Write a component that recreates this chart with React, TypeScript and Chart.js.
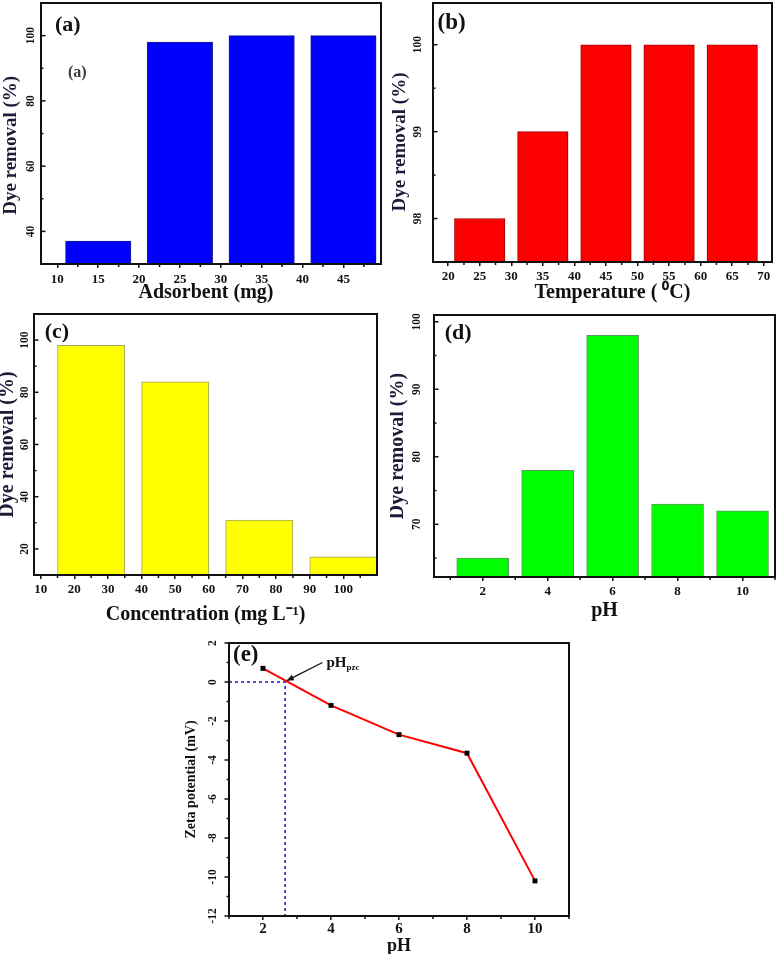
import React, { useEffect, useRef } from "react";
import { Chart, registerables } from "chart.js";

Chart.register(...registerables);

const SERIF = "'Liberation Serif', 'Times New Roman', Times, serif";
Chart.defaults.font.family = SERIF;
Chart.defaults.color = "#111";

// ---------- (a) adsorbent dose ----------
const adsorbentMg = [15, 25, 35, 45];
const removalByAdsorbent = [37, 98, 100, 100];
const adsorbentTicks = [10, 15, 20, 25, 30, 35, 40, 45];
const adsorbentMinorTicks = [12.5, 17.5, 22.5, 27.5, 32.5, 37.5, 42.5, 47.5];
const removalTicksA = [40, 60, 80, 100];
const removalMinorA = [50, 70, 90];

// ---------- (b) temperature ----------
const temperatureC = [25, 35, 45, 55, 65];
const removalByTemperature = [98, 99, 100, 100, 100];
const temperatureTicks = [20, 25, 30, 35, 40, 45, 50, 55, 60, 65, 70];
const temperatureMinorTicks = [22.5, 27.5, 32.5, 37.5, 42.5, 47.5, 52.5, 57.5, 62.5, 67.5];
const removalTicksB = [98, 99, 100];
const removalMinorB = [97.5, 98.5, 99.5];

// ---------- (c) initial concentration ----------
const concentrationMgL = [25, 50, 75, 100];
const removalByConcentration = [98, 84, 31, 17];
const concentrationTicks = [10, 20, 30, 40, 50, 60, 70, 80, 90, 100];
const concentrationMinorTicks = [15, 25, 35, 45, 55, 65, 75, 85, 95, 105];
const removalTicksC = [20, 40, 60, 80, 100];
const removalMinorC = [30, 50, 70, 90];

// ---------- (d) pH ----------
const solutionPH = [2, 4, 6, 8, 10];
const removalByPH = [65, 78, 98, 73, 72];
const pHTicks = [2, 4, 6, 8, 10];
const pHMinorTicks = [1, 3, 5, 7, 9, 11];
const removalTicksD = [70, 80, 90, 100];
const removalMinorD = [65, 75, 85, 95];

// ---------- (e) zeta potential ----------
const zetaPH = [2, 4, 6, 8, 10];
const zetaPotentialMV = [0.7, -1.2, -2.7, -3.65, -10.2];
const pHpzc = 2.65;
const zetaTicks = [-12, -10, -8, -6, -4, -2, 0, 2];
const zetaMinorTicks = [-11, -9, -7, -5, -3, -1, 1];
const pzcArrowFrom = { x: 3.75, y: 1.0 };
const pzcArrowTo = { x: 2.7, y: 0.07 };

type PanelLabel = { text: string; dx: number; dy: number; size: number; color: string };

interface Deco {
  yTicks: number[];
  yMinor: number[];
  xMinor: number[];
  yLabelGap: number;
  yLabelFont: number;
  yTickOutward: boolean;
  labels: PanelLabel[];
  extra?: (chart: any, ctx: CanvasRenderingContext2D) => void;
}

function decoPlugin(d: Deco) {
  return {
    id: "panelDeco",
    afterDatasetsDraw(chart: any) {
      const { ctx, chartArea: a } = chart;
      const xs = chart.scales.x;
      const ys = chart.scales.y;
      ctx.save();
      ctx.strokeStyle = "#111";
      ctx.lineWidth = 1.5;
      const dir = d.yTickOutward ? -1 : 1;
      const yTick = (v: number, len: number) => {
        const p = ys.getPixelForValue(v);
        ctx.beginPath();
        ctx.moveTo(a.left, p);
        ctx.lineTo(a.left + dir * len, p);
        ctx.stroke();
      };
      d.yTicks.forEach((v) => yTick(v, 4.5));
      d.yMinor.forEach((v) => yTick(v, 2.5));
      d.xMinor.forEach((v) => {
        const p = xs.getPixelForValue(v);
        ctx.beginPath();
        ctx.moveTo(p, a.bottom);
        ctx.lineTo(p, a.bottom + 3);
        ctx.stroke();
      });
      ctx.lineWidth = 2;
      ctx.strokeRect(a.left, a.top, a.right - a.left, a.bottom - a.top);

      ctx.fillStyle = "#111";
      ctx.font = `bold ${d.yLabelFont}px ${SERIF}`;
      ctx.textAlign = "center";
      ctx.textBaseline = "middle";
      d.yTicks.forEach((v) => {
        const p = ys.getPixelForValue(v);
        ctx.save();
        ctx.translate(a.left - d.yLabelGap, p);
        ctx.rotate(-Math.PI / 2);
        ctx.fillText(String(v), 0, 0);
        ctx.restore();
      });

      ctx.textAlign = "left";
      ctx.textBaseline = "alphabetic";
      d.labels.forEach((l) => {
        ctx.font = `bold ${l.size}px ${SERIF}`;
        ctx.fillStyle = l.color;
        ctx.fillText(l.text, a.left + l.dx, a.top + l.dy);
      });
      if (d.extra) d.extra(chart, ctx);
      ctx.restore();
    },
  };
}

interface AxisSpec {
  xMin: number;
  xMax: number;
  yMin: number;
  yMax: number;
  xTicks: number[];
  xTitle: string;
  yTitle: string;
  padTop: number;
  padRight: number;
  yAxisWidth: number;
  xAxisHeight: number;
  xTickPad: number;
  xTickFont: number;
  xTitleFont: number;
  xTitlePad: number;
  yTitleFont: number;
  yTitlePad: number;
}

function axesOptions(s: AxisSpec) {
  return {
    responsive: false,
    animation: false,
    events: [],
    layout: { padding: { left: 0, top: s.padTop, right: s.padRight, bottom: 0 } },
    plugins: { legend: { display: false }, tooltip: { enabled: false } },
    scales: {
      x: {
        type: "linear",
        min: s.xMin,
        max: s.xMax,
        offset: false,
        afterBuildTicks: (sc: any) => {
          sc.ticks = s.xTicks.map((v) => ({ value: v }));
        },
        afterFit: (sc: any) => {
          sc.height = s.xAxisHeight;
        },
        ticks: {
          autoSkip: false,
          maxRotation: 0,
          minRotation: 0,
          padding: s.xTickPad,
          font: { size: s.xTickFont, weight: "bold" },
          color: "#111",
        },
        grid: {
          offset: false,
          drawOnChartArea: false,
          drawTicks: true,
          tickLength: 4,
          color: "#111",
          lineWidth: 1.5,
        },
        border: { display: false },
        title: {
          display: true,
          text: s.xTitle,
          font: { size: s.xTitleFont, weight: "bold" },
          color: "#111",
          padding: { top: 0, bottom: s.xTitlePad },
        },
      },
      y: {
        type: "linear",
        min: s.yMin,
        max: s.yMax,
        afterFit: (sc: any) => {
          sc.width = s.yAxisWidth;
        },
        ticks: { display: false },
        grid: { display: false },
        border: { display: false },
        title: {
          display: true,
          text: s.yTitle,
          font: { size: s.yTitleFont, weight: "bold" },
          color: "#1c1c38",
          padding: { top: s.yTitlePad, bottom: 0 },
        },
      },
    },
  };
}

interface BarSpec extends AxisSpec {
  xs: number[];
  ys: number[];
  fill: string;
  edge: string;
  barWidth: number;
  deco: Deco;
}

function barConfig(s: BarSpec): any {
  return {
    type: "bar",
    data: {
      datasets: [
        {
          data: s.xs.map((x, i) => ({ x, y: s.ys[i] })),
          backgroundColor: s.fill,
          borderColor: s.edge,
          borderWidth: 1,
          base: s.yMin,
          barThickness: (c: any) => {
            const sc = c.chart.scales.x;
            return Math.abs(sc.getPixelForValue(s.barWidth) - sc.getPixelForValue(0));
          },
        },
      ],
    },
    options: axesOptions(s),
    plugins: [decoPlugin(s.deco)],
  };
}

const makeA = () =>
  barConfig({
    xs: adsorbentMg,
    ys: removalByAdsorbent,
    fill: "#0000ff",
    edge: "#1a1a8c",
    barWidth: 8,
    xMin: 8,
    xMax: 49.6,
    yMin: 30,
    yMax: 110,
    xTicks: adsorbentTicks,
    xTitle: "Adsorbent (mg)  ",
    yTitle: "Dye removal (%)     ",
    padTop: 3,
    padRight: 9,
    yAxisWidth: 41,
    xAxisHeight: 41,
    xTickPad: 4,
    xTickFont: 13,
    xTitleFont: 20,
    xTitlePad: 0,
    yTitleFont: 19,
    yTitlePad: 0,
    deco: {
      yTicks: removalTicksA,
      yMinor: removalMinorA,
      xMinor: adsorbentMinorTicks,
      yLabelGap: 10,
      yLabelFont: 11.5,
      yTickOutward: false,
      labels: [
        { text: "(a)", dx: 14, dy: 28, size: 22, color: "#111" },
        { text: "(a)", dx: 27, dy: 74, size: 16, color: "#3a3a3a" },
      ],
    },
  });

const makeB = () =>
  barConfig({
    xs: temperatureC,
    ys: removalByTemperature,
    fill: "#ff0000",
    edge: "#9a0000",
    barWidth: 8,
    xMin: 17.6,
    xMax: 71.3,
    yMin: 97.5,
    yMax: 100.48,
    xTicks: temperatureTicks,
    xTitle: "    Temperature ( \u2070C)",
    yTitle: "Dye removal (%)    ",
    padTop: 3,
    padRight: 8,
    yAxisWidth: 43,
    xAxisHeight: 43,
    xTickPad: 3,
    xTickFont: 13,
    xTitleFont: 20,
    xTitlePad: 0,
    yTitleFont: 19,
    yTitlePad: -1,
    deco: {
      yTicks: removalTicksB,
      yMinor: removalMinorB,
      xMinor: temperatureMinorTicks,
      yLabelGap: 15,
      yLabelFont: 11.5,
      yTickOutward: false,
      labels: [{ text: "(b)", dx: 4.5, dy: 26, size: 23, color: "#111" }],
    },
  });

const makeC = () =>
  barConfig({
    xs: concentrationMgL,
    ys: removalByConcentration,
    fill: "#ffff00",
    edge: "#a3a36a",
    barWidth: 20,
    xMin: 8,
    xMax: 110,
    yMin: 10,
    yMax: 110,
    xTicks: concentrationTicks,
    xTitle: "Concentration (mg L\u207B\u00B9)",
    yTitle: "Dye removal (%)",
    padTop: 9,
    padRight: 13,
    yAxisWidth: 34,
    xAxisHeight: 50,
    xTickPad: 3,
    xTickFont: 13,
    xTitleFont: 20,
    xTitlePad: -2,
    yTitleFont: 20,
    yTitlePad: -4,
    deco: {
      yTicks: removalTicksC,
      yMinor: removalMinorC,
      xMinor: concentrationMinorTicks,
      yLabelGap: 8.5,
      yLabelFont: 11.5,
      yTickOutward: false,
      labels: [{ text: "(c)", dx: 10.7, dy: 23.7, size: 22, color: "#111" }],
    },
  });

const makeD = () =>
  barConfig({
    xs: solutionPH,
    ys: removalByPH,
    fill: "#00ff00",
    edge: "#5c9a5c",
    barWidth: 1.6,
    xMin: 0.5,
    xMax: 11,
    yMin: 62.2,
    yMax: 101,
    xTicks: pHTicks,
    xTitle: "pH",
    yTitle: "Dye removal (%)",
    padTop: 10,
    padRight: 5,
    yAxisWidth: 44,
    xAxisHeight: 48,
    xTickPad: 3,
    xTickFont: 13,
    xTitleFont: 20,
    xTitlePad: 2,
    yTitleFont: 20,
    yTitlePad: -4,
    deco: {
      yTicks: removalTicksD,
      yMinor: removalMinorD,
      xMinor: pHMinorTicks,
      yLabelGap: 16.5,
      yLabelFont: 11.5,
      yTickOutward: false,
      labels: [{ text: "(d)", dx: 10.7, dy: 24.3, size: 22, color: "#111" }],
    },
  });

const E_X_MIN = 1;
const E_Y_MIN = -12;

const makeE = (): any => {
  const axes = axesOptions({
    xMin: E_X_MIN,
    xMax: 11,
    yMin: E_Y_MIN,
    yMax: 2,
    xTicks: pHTicks,
    xTitle: "pH",
    yTitle: "Zeta potential (mV)",
    padTop: 18,
    padRight: 31,
    yAxisWidth: 49,
    xAxisHeight: 38,
    xTickPad: 0,
    xTickFont: 15,
    xTitleFont: 18,
    xTitlePad: -3,
    yTitleFont: 14,
    yTitlePad: 2.5,
  });
  (axes.scales.y.title as any).color = "#111";
  return {
    type: "line",
    data: {
      datasets: [
        {
          data: zetaPH.map((x, i) => ({ x, y: zetaPotentialMV[i] })),
          borderColor: "#ff0000",
          borderWidth: 2,
          tension: 0,
          pointStyle: "rect",
          pointRadius: 3.5,
          pointBackgroundColor: "#000",
          pointBorderColor: "#000",
          pointBorderWidth: 0,
        },
        {
          data: [
            { x: E_X_MIN, y: 0 },
            { x: pHpzc, y: 0 },
            { x: pHpzc, y: E_Y_MIN },
          ],
          borderColor: "#1616c8",
          borderWidth: 1.5,
          borderDash: [3, 3],
          pointRadius: 0,
          tension: 0,
        },
      ],
    },
    options: axes,
    plugins: [
      decoPlugin({
        yTicks: zetaTicks,
        yMinor: zetaMinorTicks,
        xMinor: pHMinorTicks,
        yLabelGap: 15.7,
        yLabelFont: 11.5,
        yTickOutward: true,
        labels: [{ text: "(e)", dx: 4, dy: 18, size: 23, color: "#111" }],
        extra: (chart, ctx) => {
          const xs = chart.scales.x;
          const ys = chart.scales.y;
          const x1 = xs.getPixelForValue(pzcArrowFrom.x);
          const y1 = ys.getPixelForValue(pzcArrowFrom.y);
          const x2 = xs.getPixelForValue(pzcArrowTo.x);
          const y2 = ys.getPixelForValue(pzcArrowTo.y);
          ctx.strokeStyle = "#111";
          ctx.fillStyle = "#111";
          ctx.lineWidth = 1.3;
          ctx.beginPath();
          ctx.moveTo(x1, y1);
          ctx.lineTo(x2, y2);
          ctx.stroke();
          const ang = Math.atan2(y2 - y1, x2 - x1);
          const L = 7;
          const W = 3;
          ctx.beginPath();
          ctx.moveTo(x2, y2);
          ctx.lineTo(x2 - L * Math.cos(ang) + W * Math.sin(ang), y2 - L * Math.sin(ang) - W * Math.cos(ang));
          ctx.lineTo(x2 - L * Math.cos(ang) - W * Math.sin(ang), y2 - L * Math.sin(ang) + W * Math.cos(ang));
          ctx.closePath();
          ctx.fill();
          ctx.textAlign = "left";
          ctx.textBaseline = "alphabetic";
          ctx.font = `bold 15px ${SERIF}`;
          ctx.fillText("pH", x1 + 4, y1 + 4);
          const w = ctx.measureText("pH").width;
          ctx.font = `bold 9px ${SERIF}`;
          ctx.fillText("pzc", x1 + 4 + w, y1 + 7);
        },
      }),
    ],
  };
};

function ChartCanvas({
  make,
  left,
  top,
  width,
  height,
}: {
  make: () => any;
  left: number;
  top: number;
  width: number;
  height: number;
}) {
  const ref = useRef<HTMLCanvasElement | null>(null);
  useEffect(() => {
    if (!ref.current) return;
    const chart = new Chart(ref.current, make());
    return () => chart.destroy();
  }, [make]);
  return (
    <canvas
      ref={ref}
      width={width}
      height={height}
      style={{ position: "absolute", left, top, width, height, display: "block" }}
    />
  );
}

export default function App() {
  return (
    <div
      style={{
        position: "absolute",
        left: 0,
        top: 0,
        width: 780,
        height: 954,
        background: "#fff",
        overflow: "hidden",
      }}
    >
      <ChartCanvas make={makeA} left={0} top={0} width={390} height={305} />
      <ChartCanvas make={makeB} left={390} top={0} width={390} height={305} />
      <ChartCanvas make={makeC} left={0} top={305} width={390} height={320} />
      <ChartCanvas make={makeD} left={390} top={305} width={390} height={320} />
      <ChartCanvas make={makeE} left={180} top={625} width={420} height={329} />
    </div>
  );
}
